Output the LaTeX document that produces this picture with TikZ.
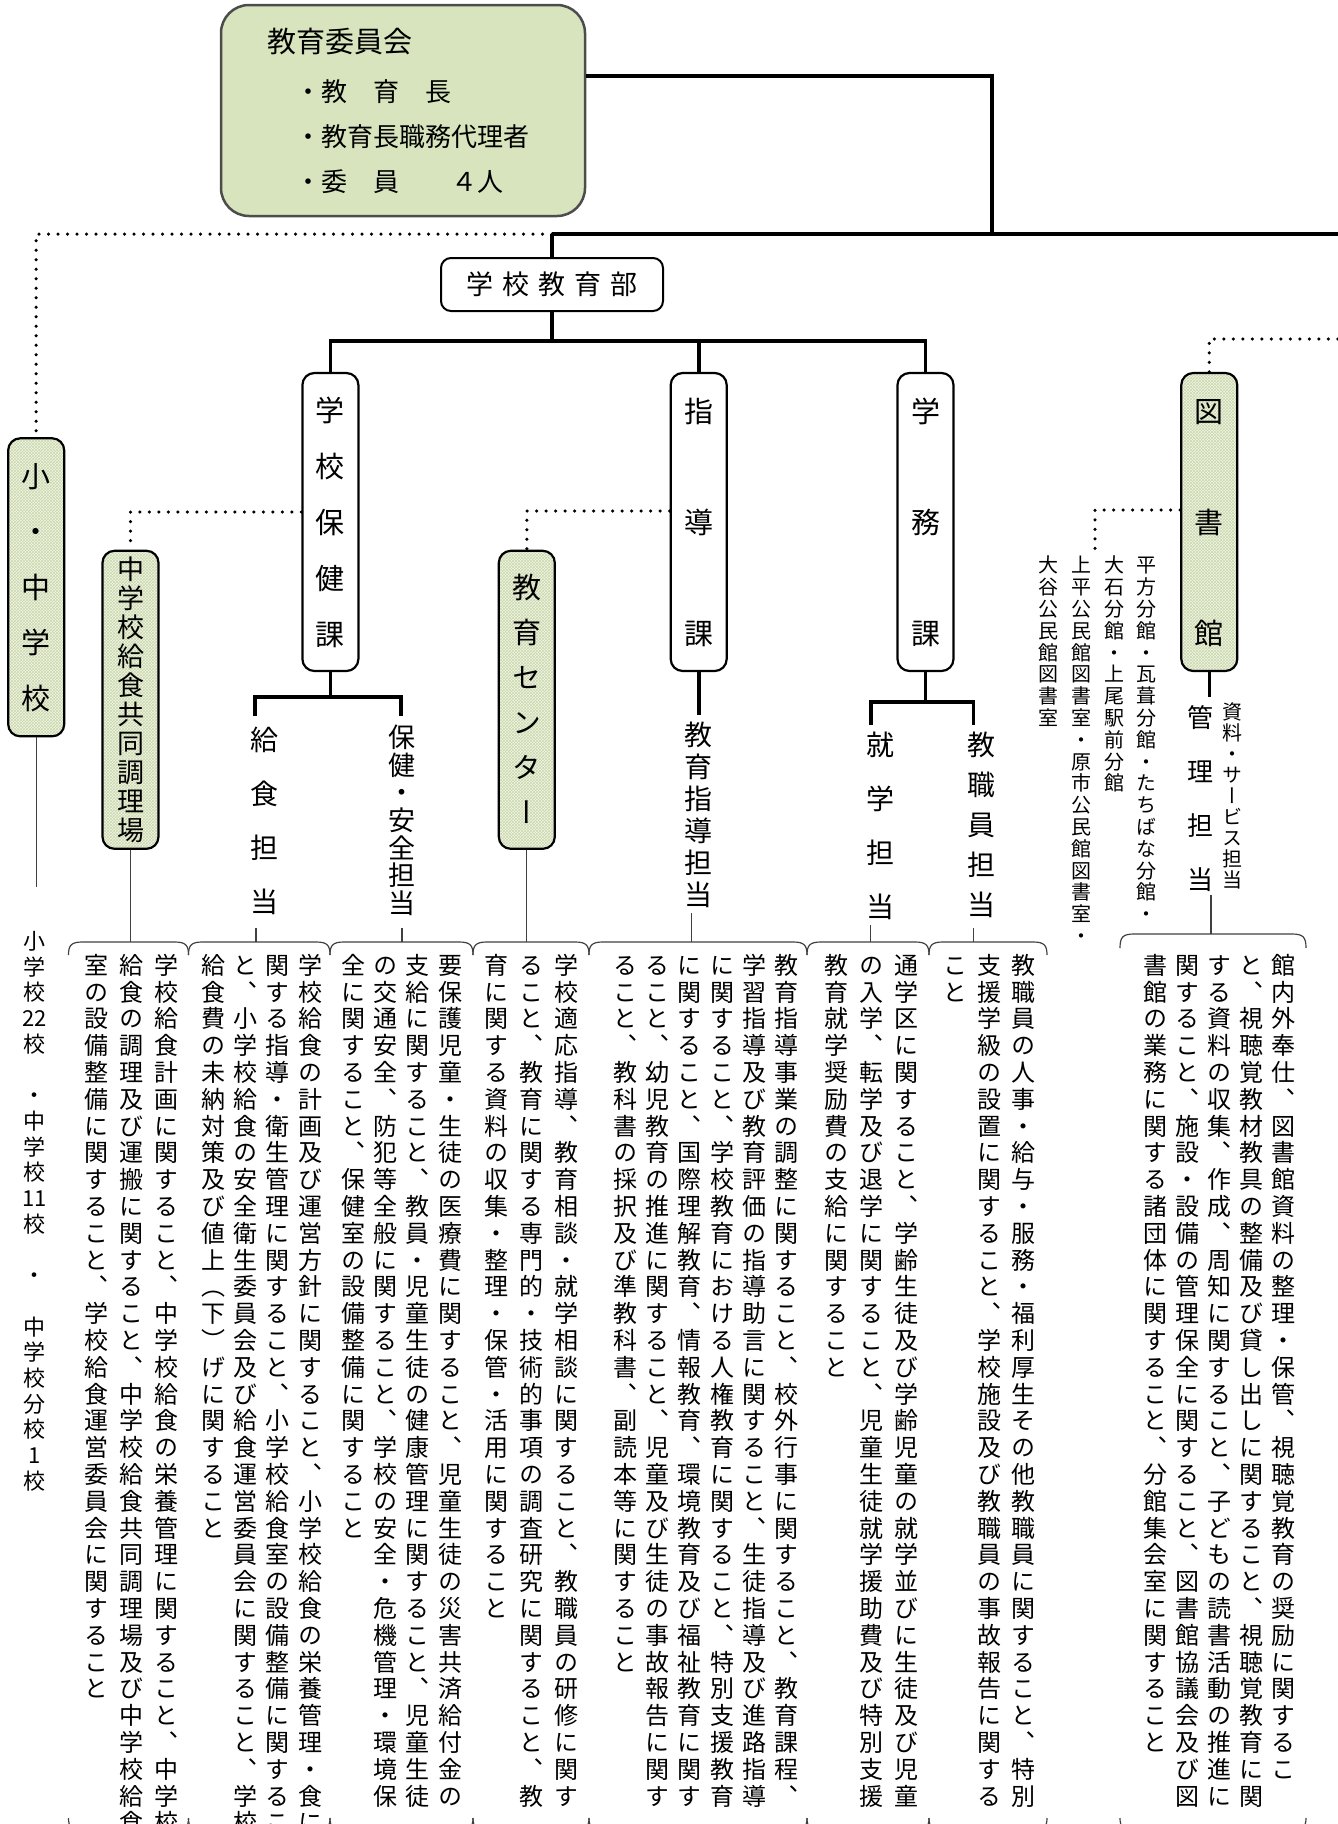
\documentclass[tikz,border=0pt]{standalone}
\usepackage{fontspec}
\setmainfont{Noto Sans CJK JP}
\newfontfamily\vjp[RawFeature=+vert]{Noto Sans CJK JP}
\usetikzlibrary{patterns}

\definecolor{boardgreen}{HTML}{D7E4BD}
\definecolor{hatchbg}{HTML}{F1F4E8}
\definecolor{hatchline}{HTML}{C9D8AA}

% vertical writing: one character per cell, cell pitch = \baselineskip
\makeatletter
\newdimen\tggap
\protected\def\vsp{}
\def\tgend{\tgend}
\newcommand\tategaki[1]{\edef\tg@tmp{#1}\expandafter\tg@start\expandafter{\tg@tmp}}
\def\tg@start#1{\vbox{\tggap=\dimexpr\baselineskip-1em\relax\offinterlineskip
  \let\tg@sep\relax\tg@a#1\tgend}}
\def\tg@a#1{\ifx\tgend#1\else\tg@sep\tg@cell{#1}\let\tg@sep\tg@kern\expandafter\tg@a\fi}
\def\tg@kern{\kern\tggap}
\def\tg@cell#1{\hbox to 1em{\hss\vrule width 0pt height .88em depth .12em\relax#1\hss}}
\makeatother

\begin{document}
\begin{tikzpicture}[x=1pt, y=-1pt]
	\useasboundingbox (0,0) rectangle (1338,1824);
	\clip (0,0) rectangle (1338,1824);
	% Define styles
	\tikzstyle{board}=[draw=black!70, line width=2.5pt, fill=boardgreen, rounded corners=28pt, minimum width=364pt, minimum height=211pt, text width=272pt, align=left, font=\fontsize{26}{45}\selectfont]
	\tikzstyle{deptbox}=[draw, line width=2pt, fill=white, rounded corners=10pt, minimum width=222pt, minimum height=53pt, font=\fontsize{27}{30}\selectfont]
	\tikzstyle{kaframe}=[draw, line width=2.2pt, rounded corners=12pt, minimum width=56pt, minimum height=298pt, inner sep=0pt]
	\tikzstyle{ka}=[kaframe, fill=white]
	\tikzstyle{kag}=[kaframe, preaction={fill=hatchbg}, pattern=crosshatch, pattern color=hatchline]
	\tikzstyle{tate}=[anchor=north, inner sep=0pt]
	\tikzstyle{desc}=[tate, font=\vjp\fontsize{24}{26.8}\selectfont]
	\tikzstyle{branch}=[tate, font=\vjp\fontsize{20}{21.8}\selectfont]
	\tikzstyle{conn}=[line width=3.6pt]
	\tikzstyle{wire}=[line width=1.2pt, draw=black!75]
	\tikzstyle{dotline}=[line width=3.5pt, line cap=round, dash pattern=on 0pt off 9.5pt]
	\tikzstyle{curl}=[line width=1.2pt, draw=black!75]

	% board and department
	\node[board] (board) at (403,110.5) {{\fontsize{29}{45}\selectfont 教育委員会}\\[4pt]
		\hspace*{28pt}・教　育　長\\
		\hspace*{28pt}・教育長職務代理者\\
		\hspace*{28pt}・委　員　　４人};
	\node[deptbox] (dept) at (552,284.5) {学\hskip9pt 校\hskip9pt 教\hskip9pt 育\hskip9pt 部};

	% sections
	\node[ka, font=\vjp\fontsize{29}{56}\selectfont] (hoken) at (330.4,522) {\tategaki{学校保健課}};
	\node[ka, font=\vjp\fontsize{29}{111}\selectfont] (shido) at (698.7,522) {\tategaki{指導課}};
	\node[ka, font=\vjp\fontsize{29}{111}\selectfont] (gakumu) at (925.5,522) {\tategaki{学務課}};
	\node[kag, font=\vjp\fontsize{29}{111}\selectfont] (lib) at (1209.3,522) {\tategaki{図書館}};
	\node[kag, font=\vjp\fontsize{29}{55.5}\selectfont] (school) at (36.2,587.3) {\tategaki{小・中学校}};
	\node[kag, font=\vjp\fontsize{27}{29}\selectfont] (kyushoku) at (130.5,699.8) {\tategaki{中学校給食共同調理場}};
	\node[kag, font=\vjp\fontsize{29}{45}\selectfont] (center) at (526.8,699.8) {\tategaki{教育センター}};

	% staff in charge
	\node[tate, font=\vjp\fontsize{28}{54}\selectfont] (kyu) at (264.5,726) {\tategaki{給食担当}};
	\node[tate, font=\vjp\fontsize{27}{27.7}\selectfont] (anzen) at (402,723.5) {\tategaki{保健・安全担当}};
	\node[tate, font=\vjp\fontsize{28}{32}\selectfont] (shidotan) at (698.7,721) {\tategaki{教育指導担当}};
	\node[tate, font=\vjp\fontsize{28}{54}\selectfont] (shugaku) at (880,731) {\tategaki{就学担当}};
	\node[tate, font=\vjp\fontsize{28}{40}\selectfont] (kyoshoku) at (981,731) {\tategaki{教職員担当}};
	\node[tate, font=\vjp\fontsize{26}{54.3}\selectfont] (kanri) at (1200,704) {\tategaki{管理担当}};
	\node[tate, font=\vjp\fontsize{20}{21}\selectfont] (shiryo) at (1232,702) {\tategaki{資料・サービス担当}};
	\node[tate, font=\vjp\fontsize{22}{25.7}\selectfont] (schools) at (34.5,930) {\tategaki{小学校{22}校\vsp ・中学校{11}校\vsp ・\vsp 中学校分校1校}};
	\foreach \t [count=\i from 0] in {平方分館・瓦葺分館・たちばな分館・, 大石分館・上尾駅前分館, 上平公民館図書室・原市公民館図書室・, 大谷公民館図書室}
		\node[branch] (br\i) at (1146.7-32.7*\i,555) {\tategaki{\t}};

	% connectors
	\coordinate (bus) at (992,234);
	\coordinate (busL) at (552,234);
	\coordinate (busR) at (1338,234);
	\coordinate (bar) at (552,341);
	\coordinate (kbar) at (330.4,697);
	\coordinate (gbar) at (925.5,702);
	\coordinate (libdrop) at (1209.3,696.7);
	\coordinate (libR) at (1338,339);
	\coordinate (brtop) at (1095,554);
	\coordinate (schooldrop) at (36.2,887);
	\draw[conn] ([yshift=34.5pt]board.east) -| (bus);
	\draw[conn] (busL) -- (busR);
	\draw[dotline] (busL) -| (school.north);
	\draw[conn] (busL) -- (dept.north);
	\draw[conn] (dept.south) -- (bar);
	\draw[conn] (hoken.north) |- (gakumu.north |- bar) -- (gakumu.north);
	\draw[conn] (shido.north) -- (shido.north |- bar);
	\draw[dotline] ([yshift=10pt]hoken.west) -| (kyushoku.north);
	\draw[dotline] ([yshift=11pt]shido.west) -| (center.north);
	\draw[dotline] ([yshift=12pt]lib.west) -| (brtop);
	\draw[dotline] (lib.north) |- (libR);
	\draw[conn] (hoken.south) -- (kbar);
	\draw[conn] ([xshift=-9.5pt,yshift=10pt]kyu.north) |- (kbar) -| ([xshift=-1pt,yshift=7.5pt]anzen.north);
	\draw[conn] (shido.south) -- ([yshift=6pt]shidotan.north);
	\draw[conn] (gakumu.south) -- (gbar);
	\draw[conn] ([xshift=-9pt,yshift=6pt]shugaku.north) |- (gbar) -| ([xshift=-7.5pt,yshift=6pt]kyoshoku.north);
	\draw[conn] (lib.south) -- (libdrop);
	\draw[wire] (school.south) -- (schooldrop);

	% braces over the duties
	\coordinate (tA) at (130.5,942);
	\coordinate (tB) at (256,942);
	\coordinate (tC) at (402,942);
	\coordinate (tD) at (526.8,942);
	\coordinate (tE) at (691.6,942);
	\coordinate (tF) at (870.6,942);
	\coordinate (tG) at (973.5,942);
	\coordinate (tH) at (1211,934);
	\draw[wire] (kyushoku.south) -- (tA);
	\draw[wire, shorten <=12pt] (kyu.south -| tB) -- (tB);
	\draw[wire, shorten <=11pt] (anzen.south -| tC) -- (tC);
	\draw[wire] (center.south) -- (tD);
	\draw[wire, shorten <=4pt] (shidotan.south -| tE) -- (tE);
	\draw[wire, shorten <=4pt] (shugaku.south -| tF) -- (tF);
	\draw[wire, shorten <=9pt] (kyoshoku.south -| tG) -- (tG);
	\draw[wire, shorten <=2pt] (kanri.south -| tH) -- (tH);
	\foreach \xl/\xr in {68.5/188.5, 188.5/330, 330/473, 473/589, 589/807, 807/929, 929/1047}{
		\draw[curl] (\xl,955) .. controls (\xl,945) and (\xl+3,942) .. (\xl+14,942) -- (\xr-14,942) .. controls (\xr-3,942) and (\xr,945) .. (\xr,955);
		\draw[curl] (\xl,1818) .. controls (\xl,1827) and (\xl+3,1830) .. (\xl+14,1830) -- (\xr-14,1830) .. controls (\xr-3,1830) and (\xr,1827) .. (\xr,1818);
	}
	\draw[curl] (1120,948) .. controls (1120,937) and (1123,934) .. (1134,934) -- (1292,934) .. controls (1303,934) and (1306,937) .. (1306,948);
	\draw[curl] (1120,1818) .. controls (1120,1827) and (1123,1830) .. (1134,1830) -- (1292,1830) .. controls (1303,1830) and (1306,1827) .. (1306,1818);

	% duties
	\foreach \t [count=\i from 0] in {学校給食計画に関すること、中学校給食の栄養管理に関すること、中学校, 給食の調理及び運搬に関すること、中学校給食共同調理場及び中学校給食, 室の設備整備に関すること、学校給食運営委員会に関すること}
		\node[desc] (A\i) at (166.7-35*\i,953) {\tategaki{\t}};
	\foreach \t [count=\i from 0] in {学校給食の計画及び運営方針に関すること、小学校給食の栄養管理・食に, 関する指導・衛生管理に関すること、小学校給食室の設備整備に関するこ, と、小学校給食の安全衛生委員会及び給食運営委員会に関すること、学校, 給食費の未納対策及び値上（下）げに関すること}
		\node[desc] (B\i) at (310-32.2*\i,953) {\tategaki{\t}};
	\foreach \t [count=\i from 0] in {要保護児童・生徒の医療費に関すること、児童生徒の災害共済給付金の, 支給に関すること、教員・児童生徒の健康管理に関すること、児童生徒, の交通安全、防犯等全般に関すること、学校の安全・危機管理・環境保, 全に関すること、保健室の設備整備に関すること}
		\node[desc] (C\i) at (450-32.2*\i,953) {\tategaki{\t}};
	\foreach \t [count=\i from 0] in {学校適応指導、教育相談・就学相談に関すること、教職員の研修に関す, ること、教育に関する専門的・技術的事項の調査研究に関すること、教, 育に関する資料の収集・整理・保管・活用に関すること}
		\node[desc] (D\i) at (566.7-35*\i,953) {\tategaki{\t}};
	\foreach \t [count=\i from 0] in {教育指導事業の調整に関すること、校外行事に関すること、教育課程、, 学習指導及び教育評価の指導助言に関すること、生徒指導及び進路指導, に関すること、学校教育における人権教育に関すること、特別支援教育, に関すること、国際理解教育、情報教育、環境教育及び福祉教育に関す, ること、幼児教育の推進に関すること、児童及び生徒の事故報告に関す, ること、教科書の採択及び準教科書、副読本等に関すること}
		\node[desc] (E\i) at (786.7-32.3*\i,953) {\tategaki{\t}};
	\foreach \t [count=\i from 0] in {通学区に関すること、学齢生徒及び学齢児童の就学並びに生徒及び児童, の入学、転学及び退学に関すること、児童生徒就学援助費及び特別支援, 教育就学奨励費の支給に関すること}
		\node[desc] (F\i) at (906.7-35*\i,953) {\tategaki{\t}};
	\foreach \t [count=\i from 0] in {教職員の人事・給与・服務・福利厚生その他教職員に関すること、特別, 支援学級の設置に関すること、学校施設及び教職員の事故報告に関する, こと}
		\node[desc] (G\i) at (1023-34*\i,953) {\tategaki{\t}};
	\foreach \t [count=\i from 0] in {館内外奉仕、図書館資料の整理・保管、視聴覚教育の奨励に関するこ, と、視聴覚教材教具の整備及び貸し出しに関すること、視聴覚教育に関, する資料の収集、作成、周知に関すること、子どもの読書活動の推進に, 関すること、施設・設備の管理保全に関すること、図書館協議会及び図, 書館の業務に関する諸団体に関すること、分館集会室に関すること}
		\node[desc] (H\i) at (1283-32*\i,953) {\tategaki{\t}};
\end{tikzpicture}
\end{document}
